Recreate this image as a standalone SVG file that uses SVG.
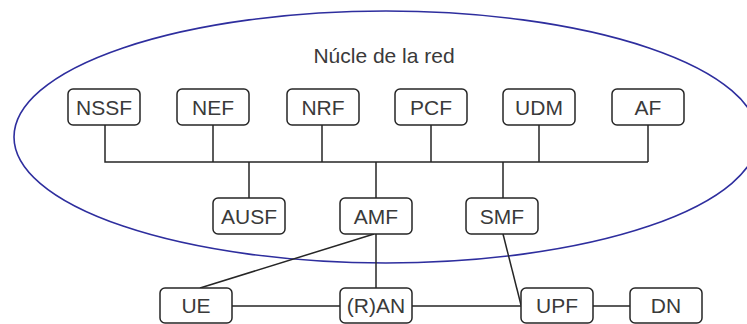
<svg xmlns="http://www.w3.org/2000/svg" width="747" height="324" viewBox="0 0 747 324">
  <style>
    .box { fill: #ffffff; stroke: #262626; stroke-width: 1.5; }
    .lbl { font-family: "Liberation Sans", Arial, sans-serif; font-size: 21px; fill: #3a3a3a; text-anchor: middle; }
    .wire { fill: none; stroke: #262626; stroke-width: 1.5; }
    .core { fill: none; stroke: #2e2e9e; stroke-width: 1.6; }
  </style>
  <rect width="747" height="324" fill="#ffffff"/>

  <!-- core network boundary -->
  <g id="core">
    <ellipse class="core" cx="386" cy="137" rx="372" ry="126"/>
    <text class="lbl" x="384" y="63">Núcle de la red</text>
  </g>

  <!-- connectors -->
  <g id="connectors">
    <path class="wire" d="M105 125V162H648M213 125V162M322 125V162M431 125V162M539 125V162M648 125V162"/>
    <path class="wire" d="M249 162V198M376 162V198M503 162V198"/>
    <path class="wire" d="M376 234V288"/>
    <path class="wire" d="M374 234L200 288"/>
    <path class="wire" d="M503 234L521 305"/>
    <path class="wire" d="M232 306H340M412 306H521M593 306H630"/>
  </g>

  <!-- network functions -->
  <g id="nssf"><rect class="box" x="68" y="89" width="72" height="36" rx="5"/><text class="lbl" x="104" y="114.5">NSSF</text></g>
  <g id="nef"><rect class="box" x="177" y="89" width="72" height="36" rx="5"/><text class="lbl" x="213" y="114.5">NEF</text></g>
  <g id="nrf"><rect class="box" x="287" y="89" width="72" height="36" rx="5"/><text class="lbl" x="323" y="114.5">NRF</text></g>
  <g id="pcf"><rect class="box" x="395" y="89" width="72" height="36" rx="5"/><text class="lbl" x="431" y="114.5">PCF</text></g>
  <g id="udm"><rect class="box" x="503" y="89" width="72" height="36" rx="5"/><text class="lbl" x="539" y="114.5">UDM</text></g>
  <g id="af"><rect class="box" x="612" y="89" width="72" height="36" rx="5"/><text class="lbl" x="648" y="114.5">AF</text></g>

  <g id="ausf"><rect class="box" x="213" y="198" width="72" height="36" rx="5"/><text class="lbl" x="249" y="223.5">AUSF</text></g>
  <g id="amf"><rect class="box" x="340" y="198" width="72" height="36" rx="5"/><text class="lbl" x="376" y="223.5">AMF</text></g>
  <g id="smf"><rect class="box" x="466" y="198" width="72" height="36" rx="5"/><text class="lbl" x="502" y="223.5">SMF</text></g>

  <!-- access and user plane -->
  <g id="ue"><rect class="box" x="160" y="288" width="72" height="35" rx="5"/><text class="lbl" x="196" y="313">UE</text></g>
  <g id="ran"><rect class="box" x="340" y="288" width="72" height="35" rx="5"/><text class="lbl" x="376" y="313">(R)AN</text></g>
  <g id="upf"><rect class="box" x="521" y="288" width="72" height="35" rx="5"/><text class="lbl" x="557" y="313">UPF</text></g>
  <g id="dn"><rect class="box" x="630" y="288" width="72" height="35" rx="5"/><text class="lbl" x="666" y="313">DN</text></g>
</svg>
